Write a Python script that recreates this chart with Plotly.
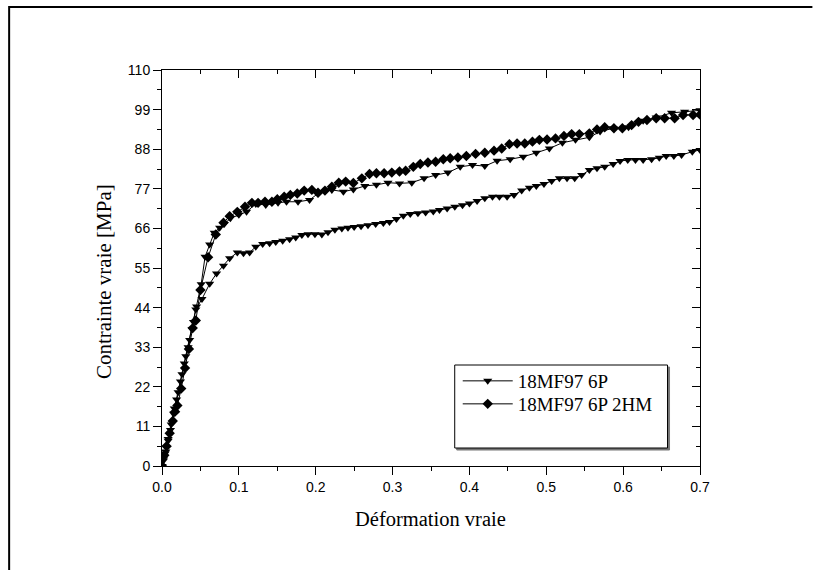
import plotly.graph_objects as go

# ---- data ----
x_6p = [0, 0.002, 0.005, 0.008, 0.011, 0.015, 0.019, 0.024, 0.029, 0.034, 0.039, 0.044, 0.052, 0.062,
        0.071, 0.080, 0.088, 0.098, 0.106, 0.114, 0.122, 0.131, 0.140, 0.148, 0.157, 0.166, 0.174, 0.182,
        0.190, 0.199, 0.208, 0.216, 0.225, 0.234, 0.242, 0.25, 0.259, 0.268, 0.278, 0.288, 0.296, 0.305,
        0.314, 0.323, 0.333, 0.343, 0.353, 0.361, 0.371, 0.381, 0.391, 0.400, 0.410, 0.420, 0.430, 0.439,
        0.449, 0.458, 0.468, 0.478, 0.487, 0.497, 0.507, 0.517, 0.527, 0.537, 0.546, 0.556, 0.566, 0.576,
        0.587, 0.596, 0.606, 0.616, 0.626, 0.637, 0.647, 0.656, 0.666, 0.676, 0.690, 0.700]
y_6p = [0, 1.5, 4, 7, 10, 14.5, 18.5, 23.5, 28.5, 33, 38, 43.5, 46.4, 50.6,
        53.5, 55.6, 57.7, 59.3, 59.1, 59.3, 60.9, 61.7, 61.9, 62.2, 62.6, 63, 63.5, 64.2,
        64.4, 64.4, 64.3, 64.9, 65.6, 66, 66.2, 66.4, 66.6, 66.9, 67.2, 67.5, 67.8, 68.6,
        69.5, 70, 70.2, 70.4, 70.7, 71.1, 71.5, 72, 72.4, 72.9, 73.6, 74.4, 74.8, 74.8,
        74.8, 75.3, 76.5, 77.3, 77.8, 78.3, 79.2, 79.9, 79.9, 79.9, 80.8, 82.2, 82.7, 83.1,
        83.9, 84.7, 85, 85, 85, 85.2, 85.6, 86.1, 86.1, 86.4, 87.3, 87.8]

x_2hm = [0, 0.003, 0.006, 0.010, 0.014, 0.017, 0.020, 0.025, 0.030, 0.035, 0.040, 0.044, 0.050, 0.060,
         0.070, 0.080, 0.088, 0.098, 0.108, 0.117, 0.125, 0.134, 0.143, 0.150, 0.159, 0.167, 0.176,
         0.185, 0.195, 0.203, 0.212, 0.221, 0.230, 0.239, 0.249, 0.260, 0.270, 0.279, 0.289, 0.299,
         0.309, 0.317, 0.327, 0.336, 0.346, 0.356, 0.366, 0.375, 0.385, 0.396, 0.408, 0.420, 0.432,
         0.442, 0.452, 0.462, 0.472, 0.482, 0.491, 0.501, 0.512, 0.523, 0.533, 0.543, 0.556, 0.566,
         0.576, 0.588, 0.599, 0.611, 0.620, 0.631, 0.643, 0.654, 0.667, 0.678, 0.691, 0.700]
y_2hm = [0, 3, 5.5, 9.1, 12.5, 15.1, 16.8, 21.5, 27.2, 32.5, 38.3, 40.4, 48.9, 58,
         64.3, 67.6, 69.4, 70.6, 72, 73.1, 73.1, 73.4, 73.4, 74.1, 74.8, 75.3, 75.7,
         76.5, 76.7, 75.9, 76.5, 77.6, 78.7, 79, 78.6, 79.9, 81.1, 81.3, 81.3, 81.5,
         81.8, 82, 83.1, 83.9, 84.3, 84.5, 85.2, 85.5, 85.7, 86.1, 86.7, 87, 87.6,
         88.2, 89.4, 89.6, 89.6, 90.1, 90.6, 90.7, 91, 91.7, 92.2, 92.2, 92.4, 93.5,
         94.1, 93.8, 93.8, 94.7, 95.6, 96.1, 96.6, 96.6, 96.6, 97.5, 97.5, 97.6]

x_6p_b = [0, 0.002, 0.004, 0.008, 0.012, 0.016, 0.021, 0.026, 0.031, 0.036, 0.041, 0.045, 0.051, 0.056,
          0.062, 0.068, 0.075, 0.081, 0.089, 0.100, 0.110, 0.122, 0.135, 0.151, 0.162, 0.177, 0.192,
          0.203, 0.221, 0.236, 0.249, 0.264, 0.279, 0.294, 0.309, 0.325, 0.341, 0.356, 0.372, 0.388,
          0.404, 0.420, 0.436, 0.453, 0.470, 0.487, 0.504, 0.521, 0.538, 0.556, 0.570, 0.587, 0.607,
          0.626, 0.643, 0.663, 0.680, 0.700]
y_6p_b = [0, 2, 3.5, 7.5, 11.5, 16, 20.5, 25.5, 30.5, 35, 40, 44.3, 50.5, 58.1,
          61.5, 64.8, 66.2, 67.2, 68.8, 69.8, 70.6, 72.8, 72.5, 73.1, 73.4, 73.4, 73.9,
          75.7, 76.7, 76.2, 76.8, 77.8, 78.1, 78.7, 78.5, 78.7, 79.9, 80.8, 81.5, 83.1,
          83.6, 83.3, 84.8, 85.2, 85.9, 87, 88.2, 89.8, 90.6, 91.3, 92.9, 93.8, 94.1,
          95.9, 96.8, 98.1, 98.4, 98.8]

names = ["18MF97 6P", "18MF97 6P 2HM"]
x_title = "Déformation vraie"
y_title = "Contrainte vraie [MPa]"

# ---- pixel layout helpers (plot area 162..700.5 x 70..466) ----
L, R, T, B = 162.0, 700.5, 70.0, 466.0
W, H = R - L, B - T
def px(x): return (x - L) / W
def py(y): return (B - y) / H

sans = "Liberation Sans, Arial, sans-serif"
serif = "Liberation Serif, Times New Roman, serif"

fig = go.Figure()
line = dict(color="black", width=1)
fig.add_trace(go.Scatter(x=x_6p, y=y_6p, mode="lines+markers", name=names[0], line=line,
                         legend="legend",
                         marker=dict(symbol="triangle-down", size=8, color="black")))
fig.add_trace(go.Scatter(x=x_2hm, y=y_2hm, mode="lines+markers", name=names[1], line=line,
                         legend="legend2",
                         marker=dict(symbol="diamond", size=8, color="black")))
fig.add_trace(go.Scatter(x=x_6p_b, y=y_6p_b, mode="lines+markers", name=names[0], line=line,
                         showlegend=False,
                         marker=dict(symbol="triangle-down", size=8, color="black")))
fig.add_trace(go.Scatter(x=[], y=[], xaxis="x2", yaxis="y2", showlegend=False, hoverinfo="skip"))

ax_common = dict(showline=True, linecolor="black", linewidth=1, showgrid=False, zeroline=False,
                 tickcolor="black", tickwidth=1)
leg_common = dict(xanchor="left", yanchor="middle", bgcolor="rgba(0,0,0,0)", borderwidth=0,
                  itemwidth=50, font=dict(family=serif, size=19, color="black"))
fig.update_layout(
    width=813, height=570,
    margin=dict(l=L, r=813 - R, t=T, b=570 - B),
    paper_bgcolor="white", plot_bgcolor="white",
    xaxis=dict(range=[0, 0.7], dtick=0.1, tick0=0, tickformat=".1f", ticks="outside", ticklen=8,
               minor=dict(dtick=0.05, ticks="outside", ticklen=4, tickcolor="black"),
               tickfont=dict(family=sans, size=14, color="black"), **ax_common),
    yaxis=dict(range=[0, 110], dtick=11, tick0=0, ticks="outside", ticklen=8,
               minor=dict(dtick=5.5, ticks="outside", ticklen=4, tickcolor="black"),
               tickfont=dict(family=sans, size=14, color="black"), **ax_common),
    xaxis2=dict(range=[0, 0.7], overlaying="x", side="top", anchor="y2", dtick=0.1, tick0=0,
                ticks="inside", ticklen=8, showticklabels=False,
                minor=dict(dtick=0.05, ticks="inside", ticklen=4, tickcolor="black"), **ax_common),
    yaxis2=dict(range=[0, 110], overlaying="y", side="right", anchor="x2", dtick=11, tick0=0,
                ticks="inside", ticklen=8, showticklabels=False,
                minor=dict(dtick=5.5, ticks="inside", ticklen=4, tickcolor="black"), **ax_common),
    legend=dict(x=px(458), y=py(381), **leg_common),
    legend2=dict(x=px(458), y=py(404), **leg_common),
    showlegend=True,
)

shapes = [
    # outer frame (left and top)
    dict(type="line", xref="paper", yref="paper", x0=px(9), x1=px(813), y0=py(7), y1=py(7),
         line=dict(color="black", width=2)),
    dict(type="line", xref="paper", yref="paper", x0=px(9), x1=px(9), y0=py(6), y1=py(570),
         line=dict(color="black", width=2)),
    # legend box shadow and box
    dict(type="rect", xref="paper", yref="paper", x0=px(457), x1=px(670), y0=py(367), y1=py(450),
         line=dict(color="#777", width=1), fillcolor="#777", layer="above"),
    dict(type="rect", xref="paper", yref="paper", x0=px(455), x1=px(668), y0=py(365), y1=py(448),
         line=dict(color="black", width=1), fillcolor="white", layer="above"),
]
fig.update_layout(shapes=shapes)

fig.add_annotation(text=x_title, xref="paper", yref="paper", x=px(431), y=py(519),
                   xanchor="center", yanchor="middle", showarrow=False,
                   font=dict(family=serif, size=20.5, color="black"))
fig.add_annotation(text=y_title, xref="paper", yref="paper", x=px(104), y=py(282),
                   xanchor="center", yanchor="middle", showarrow=False, textangle=-90,
                   font=dict(family=serif, size=21, color="black"))

fig.write_html("out.html")
